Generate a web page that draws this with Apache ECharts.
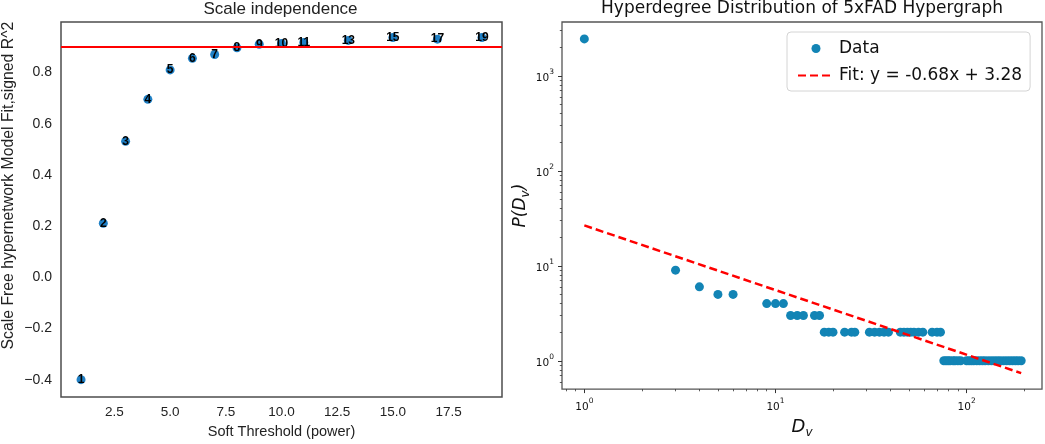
<!DOCTYPE html>
<html lang="en">
<head>
    <meta charset="UTF-8">
    <title>Scale independence / Hyperdegree distribution</title>
    <script src="https://cdn.jsdelivr.net/npm/echarts@6.0.0/dist/echarts.min.js"></script>
    <style>
        html, body { margin: 0; padding: 0; background: #fff; }
    </style>
</head>
<body>
<div id="chartContainer" style="width:1045px;height:444px;"></div>
<script type="text/javascript">
    // 左图：软阈值 vs 无标度拟合 R^2
    var softPower = [1, 2, 3, 4, 5, 6, 7, 8, 9, 10, 11, 13, 15, 17, 19];
    var signedR2 = [-0.40, 0.211, 0.531, 0.695, 0.810, 0.855, 0.870, 0.896, 0.910, 0.913, 0.917, 0.925, 0.936, 0.930, 0.936];
    var cutoffR2 = 0.9;
    var leftXTicks = [2.5, 5.0, 7.5, 10.0, 12.5, 15.0, 17.5];
    var leftYTicks = [-0.4, -0.2, 0.0, 0.2, 0.4, 0.6, 0.8];

    // 右图：超度分布 (log-log)
    var hyperDegree = [1, 3, 4, 5, 6, 9, 10, 11, 12, 13, 14, 16, 17,
        18, 19, 20, 23, 25, 26, 31, 33, 35, 37, 39, 45, 47, 49, 51, 53, 56, 59, 66, 70, 73,
        76, 78, 80, 82, 85, 87, 90, 93, 100, 103, 106, 109, 113, 117, 121, 125, 130, 135,
        140, 145, 150, 156, 162, 168, 174, 180, 186, 193];
    var degreeCount = [2450, 9, 6, 5, 5, 4, 4, 4, 3, 3, 3, 3, 3,
        2, 2, 2, 2, 2, 2, 2, 2, 2, 2, 2, 2, 2, 2, 2, 2, 2, 2, 2, 2, 2,
        1, 1, 1, 1, 1, 1, 1, 1, 1, 1, 1, 1, 1, 1, 1, 1, 1, 1,
        1, 1, 1, 1, 1, 1, 1, 1, 1, 1];
    var fitX = [1, 193];
    var fitY = [26.6, 0.74];
    var fitName = 'Fit: y = -0.68x + 3.28';
    var logXMajor = [1, 10, 100];
    var logXMinor = [0.8, 0.9, 2, 3, 4, 5, 6, 7, 8, 9, 20, 30, 40, 50, 60, 70, 80, 90, 200];
    var logYMajor = [1, 10, 100, 1000];
    var logYMinor = [0.6, 0.7, 0.8, 0.9, 2, 3, 4, 5, 6, 7, 8, 9, 20, 30, 40, 50, 60, 70, 80, 90,
        200, 300, 400, 500, 600, 700, 800, 900, 2000, 3000];

    drawChart();

    function powLabel(v) {
        return '{b|10}{s|' + Math.round(Math.log10(v)) + '}';
    }

    function drawChart() {
        var myChart = echarts.init(document.getElementById('chartContainer'));
        var arial = 'Liberation Sans';
        var dejavu = 'DejaVu Sans';
        var powRich = {
            b: {fontFamily: dejavu, fontSize: 10.5, color: '#111', lineHeight: 16, verticalAlign: 'bottom'},
            s: {fontFamily: dejavu, fontSize: 7.5, color: '#111', lineHeight: 16, verticalAlign: 'top'}
        };
        var option = {
            animation: false,
            backgroundColor: '#fff',
            title: [
                {
                    text: 'Scale independence', left: 280.5, top: 1, padding: 0, textAlign: 'center',
                    textStyle: {fontFamily: arial, fontSize: 17, fontWeight: 'normal', color: '#222'}
                },
                {
                    text: 'Hyperdegree Distribution of 5xFAD Hypergraph', left: 802, top: 0, padding: 0, textAlign: 'center',
                    textStyle: {fontFamily: dejavu, fontSize: 17, fontWeight: 'normal', color: '#111'}
                }
            ],
            legend: {
                left: 787, top: 32, orient: 'vertical',
                // 拟合线图例只保留虚线，把中间的圆点隐藏
                data: [{name: 'Data'}, {name: fitName, itemStyle: {opacity: 0}}],
                itemWidth: 36, itemHeight: 9, itemGap: 8,
                padding: [7, 8, 6, 10],
                borderColor: '#d4d4d4', borderWidth: 1, borderRadius: 4,
                backgroundColor: 'rgba(255,255,255,0.85)',
                textStyle: {fontFamily: dejavu, fontSize: 17, lineHeight: 19, color: '#111'}
            },
            grid: [
                {left: 59, top: 22, right: 543, bottom: 41, show: true, borderColor: '#4d4d4d', borderWidth: 1.5, containLabel: false},
                {left: 562, top: 22, right: 3, bottom: 41, show: true, borderColor: '#555', borderWidth: 1.3, containLabel: false}
            ],
            xAxis: [
                {
                    gridIndex: 0, type: 'value', min: 0.1, max: 19.9,
                    name: 'Soft Threshold (power)', nameLocation: 'middle', nameGap: 22,
                    nameTextStyle: {fontFamily: arial, fontSize: 14.5, color: '#222'},
                    axisLine: {show: false}, axisTick: {show: false}, splitLine: {show: false},
                    axisLabel: {
                        customValues: leftXTicks, margin: 8,
                        fontFamily: arial, fontSize: 13.5, color: '#222',
                        formatter: function (v) { return v.toFixed(1); }
                    }
                },
                {
                    gridIndex: 1, type: 'log', min: 0.764, max: 248,
                    name: '{d|D}{v|v}', nameLocation: 'middle', nameGap: 23,
                    nameTextStyle: {
                        rich: {
                            d: {fontFamily: dejavu, fontStyle: 'italic', fontSize: 18, color: '#111', lineHeight: 22, verticalAlign: 'middle'},
                            v: {fontFamily: dejavu, fontStyle: 'italic', fontSize: 12, color: '#111', lineHeight: 24, verticalAlign: 'bottom'}
                        }
                    },
                    axisLine: {show: false}, splitLine: {show: false},
                    axisTick: {show: true, customValues: logXMajor, length: 4, lineStyle: {color: '#333', width: 1}},
                    axisLabel: {customValues: logXMajor, margin: 8, formatter: powLabel, rich: powRich}
                },
                {
                    gridIndex: 1, type: 'log', min: 0.764, max: 248, position: 'bottom',
                    axisLine: {show: false}, splitLine: {show: false}, axisLabel: {show: false},
                    axisTick: {show: true, customValues: logXMinor, length: 2.2, lineStyle: {color: '#333', width: 0.8}}
                }
            ],
            yAxis: [
                {
                    gridIndex: 0, type: 'value', min: -0.468, max: 0.997,
                    name: 'Scale Free hypernetwork Model Fit,signed R^2', nameLocation: 'middle', nameGap: 44,
                    nameTextStyle: {fontFamily: arial, fontSize: 15.8, color: '#222', padding: [0, 0, 0, 48]},
                    axisLine: {show: false}, axisTick: {show: false}, splitLine: {show: false},
                    axisLabel: {
                        customValues: leftYTicks, margin: 9,
                        fontFamily: arial, fontSize: 14, color: '#222',
                        formatter: function (v) { return v.toFixed(1).replace('-', '\u2212'); }
                    }
                },
                {
                    gridIndex: 1, type: 'log', min: 0.503, max: 3690,
                    name: '{n|P(D}{v|v}{n|)}', nameLocation: 'middle', nameGap: 20,
                    nameTextStyle: {
                        rich: {
                            n: {fontFamily: dejavu, fontStyle: 'italic', fontSize: 17, color: '#111', lineHeight: 21, verticalAlign: 'middle'},
                            v: {fontFamily: dejavu, fontStyle: 'italic', fontSize: 12, color: '#111', lineHeight: 23, verticalAlign: 'bottom'}
                        }
                    },
                    axisLine: {show: false}, splitLine: {show: false},
                    axisTick: {show: true, customValues: logYMajor, length: 4, lineStyle: {color: '#333', width: 1}},
                    axisLabel: {customValues: logYMajor, margin: 8, formatter: powLabel, rich: powRich}
                },
                {
                    gridIndex: 1, type: 'log', min: 0.503, max: 3690, position: 'left',
                    axisLine: {show: false}, splitLine: {show: false}, axisLabel: {show: false},
                    axisTick: {show: true, customValues: logYMinor, length: 2.2, lineStyle: {color: '#333', width: 0.8}}
                }
            ],
            series: [
                {
                    type: 'scatter', xAxisIndex: 0, yAxisIndex: 0,
                    data: softPower.map(function (p, i) { return [p, signedR2[i]]; }),
                    symbolSize: 9,
                    itemStyle: {color: '#1f80c6', opacity: 1},
                    label: {
                        show: true, position: 'inside',
                        formatter: function (params) { return params.value[0]; },
                        fontFamily: arial, fontWeight: 'bold', fontSize: 12, color: '#000'
                    },
                    markLine: {
                        silent: true, symbol: ['none', 'none'], label: {show: false},
                        lineStyle: {color: '#ff0000', width: 2, type: 'solid'},
                        data: [{yAxis: cutoffR2}]
                    },
                    z: 3
                },
                {
                    name: 'Data', type: 'scatter', xAxisIndex: 1, yAxisIndex: 1,
                    data: hyperDegree.map(function (d, i) { return [d, degreeCount[i]]; }),
                    symbolSize: 9,
                    itemStyle: {color: '#1284b5', opacity: 1},
                    z: 2
                },
                {
                    name: fitName, type: 'line', xAxisIndex: 1, yAxisIndex: 1,
                    data: fitX.map(function (x, i) { return [x, fitY[i]]; }),
                    symbol: 'none',
                    lineStyle: {color: '#ff0000', width: 2.5, type: [8, 4]},
                    itemStyle: {color: '#ff0000'},
                    z: 4
                }
            ]
        };
        myChart.setOption(option);
    }
</script>
</body>
</html>
